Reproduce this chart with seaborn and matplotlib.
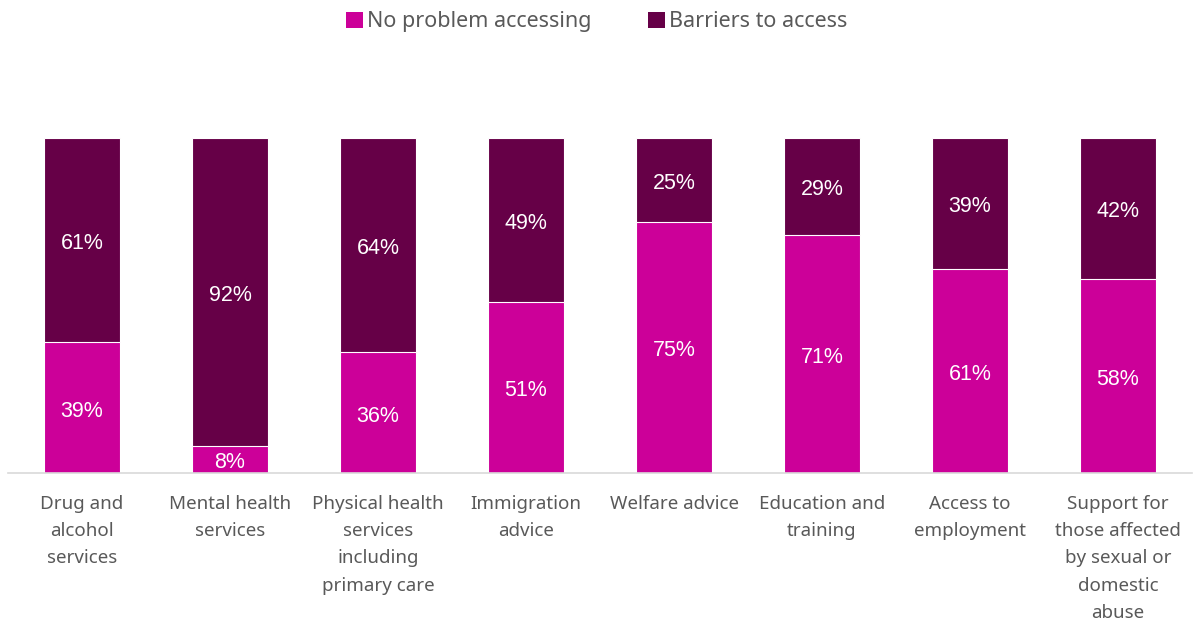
import matplotlib
matplotlib.use("Agg")
import matplotlib.pyplot as plt
from matplotlib.patches import Patch
import seaborn as sns
import pandas as pd

categories = [
    "Drug and\nalcohol\nservices",
    "Mental health\nservices",
    "Physical health\nservices\nincluding\nprimary care",
    "Immigration\nadvice",
    "Welfare advice",
    "Education and\ntraining",
    "Access to\nemployment",
    "Support for\nthose affected\nby sexual or\ndomestic\nabuse",
]
no_problem = [39, 8, 36, 51, 75, 71, 61, 58]
barriers = [61, 92, 64, 49, 25, 29, 39, 42]
series_names = ["No problem accessing", "Barriers to access"]

MAGENTA = "#CC0099"
PLUM = "#660047"
TEXT_GREY = "#595959"

df = pd.DataFrame({
    "category": categories,
    "no_problem": no_problem,
    "barriers": barriers,
})
df["total"] = df["no_problem"] + df["barriers"]

sns.set_theme(style="white")
plt.rcParams["font.family"] = ["Noto Sans", "DejaVu Sans"]

fig = plt.figure(figsize=(11.93, 6.26), dpi=100)
ax = fig.add_axes([8 / 1193, (626 - 473) / 626, 1184 / 1193, 335 / 626])

# stacked bars: full-height plum bar, magenta segment drawn over its base
sns.barplot(data=df, x="category", y="total", color=PLUM, saturation=1,
            width=0.51, edgecolor="white", linewidth=0.8, ax=ax)
sns.barplot(data=df, x="category", y="no_problem", color=MAGENTA, saturation=1,
            width=0.51, edgecolor="white", linewidth=0.8, ax=ax)

ax.set_ylim(0, 100)
ax.set_xlim(-0.5, len(categories) - 0.5)
ax.set_xlabel("")
ax.set_ylabel("")
ax.set_yticks([])
for side in ["top", "right", "left"]:
    ax.spines[side].set_visible(False)
ax.spines["bottom"].set_color("#D9D9D9")
ax.spines["bottom"].set_linewidth(1.2)
ax.tick_params(axis="x", length=0, pad=16)
for lbl in ax.get_xticklabels():
    lbl.set_fontsize(13.5)
    lbl.set_color(TEXT_GREY)
    lbl.set_linespacing(1.65)
    lbl.set_verticalalignment("top")

# value labels centred in each segment
label_font = ["Liberation Sans", "DejaVu Sans"]
for i, (a, b) in enumerate(zip(no_problem, barriers)):
    ax.text(i, a / 2 - 1, f"{a}%", ha="center", va="center", color="white",
            fontsize=15.5, family=label_font)
    ax.text(i, a + b / 2 - 1, f"{b}%", ha="center", va="center", color="white",
            fontsize=15.5, family=label_font)

handles = [Patch(facecolor=MAGENTA, edgecolor="none"),
           Patch(facecolor=PLUM, edgecolor="none")]
fig.legend(handles, series_names, loc="upper center", bbox_to_anchor=(0.5, 1.013),
           ncol=2, frameon=False, fontsize=15.5, labelcolor=TEXT_GREY,
           handlelength=0.8, handleheight=0.8, handletextpad=0.2,
           columnspacing=2.6)

fig.savefig("out.png", dpi=100)
